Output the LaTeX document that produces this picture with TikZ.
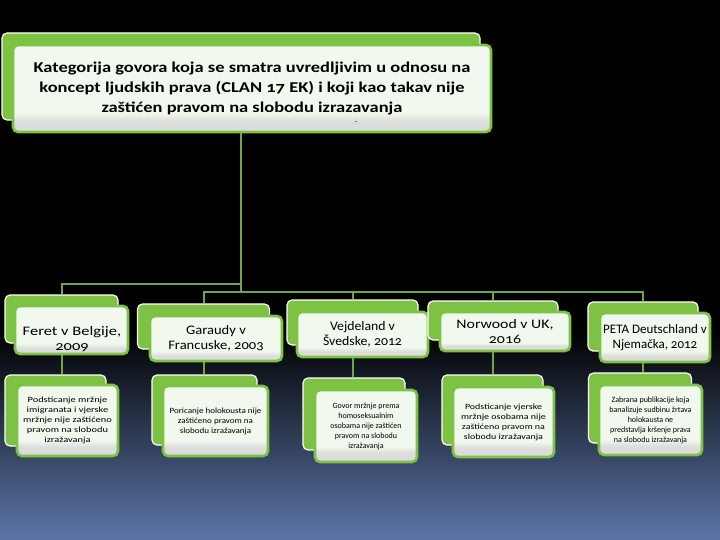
\documentclass[tikz,border=0pt]{standalone}
\usepackage{fontspec}
\setmainfont{Carlito}[Numbers=OldStyle]
\usepackage{xcolor}
\usepackage{tikz}
\usetikzlibrary{positioning}

\definecolor{leafgreen}{RGB}{125,194,66}
\definecolor{stemgreen}{RGB}{112,166,72}
\definecolor{paper}{RGB}{241,248,237}
\definecolor{paperlow}{RGB}{220,220,220}
\definecolor{nightblue}{RGB}{92,118,168}
\pgfdeclareverticalshading{cardshade}{100bp}{color(0bp)=(paperlow); color(31bp)=(paperlow); color(36bp)=(paper); color(100bp)=(paper)}
\pgfdeclarelayer{wires}
\pgfsetlayers{wires,main}

\tikzset{
  backcard/.style={draw=white, line width=1.2pt, fill=leafgreen, rounded corners=5pt, inner sep=0pt},
  frontcard/.style={draw=leafgreen, line width=2.6pt, rounded corners=5pt, shading=cardshade, inner sep=1pt, align=center, text=black},
  link/.style={stemgreen, line width=2pt},
  headtxt/.style={font=\fontsize{15}{20}\selectfont\bfseries\addfontfeature{FakeStretch=1.23}},
  casetxt/.style={font=\fontsize{13}{15}\selectfont\addfontfeature{FakeStretch=#1}},
  ruletxt/.style={font=\fontsize{8}{10}\selectfont\addfontfeature{FakeStretch=#1}},
}

\begin{document}
\begin{tikzpicture}[x=1pt,y=-1pt]
\useasboundingbox (0,0) rectangle (720,540);
\begin{pgfonlayer}{wires}
\fill[black] (0,0) rectangle (720,331);
\shade[top color=black, bottom color=nightblue] (0,330) rectangle (720,540);
\end{pgfonlayer}

% main box
\node[backcard, minimum width=478, minimum height=87] (btop) at (241,76.5) {};
\node[frontcard, headtxt, minimum width=478, minimum height=87] (top) at (252,88.5) {Kategorija govora koja se smatra uvredljivim u odnosu na\\ koncept ljudskih prava (CLAN 17 EK) i koji kao takav nije\\ zaštićen pravom na slobodu izrazavanja};
\node[inner sep=0pt, font=\fontsize{9}{9}\selectfont] (dot) at (356,122) {.};

% cases
\node[backcard, minimum width=113, minimum height=48] (bc1) at (61.5,319) {};
\node[frontcard, minimum width=113, minimum height=48] (c1) at (71.5,330) {};
\node[casetxt=1.27, align=center, inner sep=0pt] (c1text) at (72,339) {Feret v Belgije,\\ 2009};
\node[backcard, minimum width=132, minimum height=45] (bc2) at (203.5,326.5) {};
\node[frontcard, casetxt=1.12, minimum width=132, minimum height=45] (c2) at (216,338.5) {Garaudy v\\ Francuske, 2003};
\node[backcard, minimum width=131, minimum height=45] (bc3) at (352.5,322.5) {};
\node[frontcard, casetxt=1.06, minimum width=131, minimum height=45] (c3) at (362.5,334.5) {Vejdeland v\\ Švedske, 2012};
\node[backcard, minimum width=130, minimum height=39] (bc4) at (493,320.5) {};
\node[frontcard, casetxt=1.22, minimum width=130, minimum height=39] (c4) at (505,331.5) {Norwood v UK,\\ 2016};
\node[backcard, minimum width=110, minimum height=49] (bc5) at (643,326.5) {};
\node[frontcard, casetxt=1.0, minimum width=110, minimum height=49] (c5) at (655,337.5) {PETA Deutschland v\\ Njemačka, 2012};

% rulings
\node[backcard, minimum width=101, minimum height=71] (bd1) at (55.5,410.5) {};
\node[frontcard, ruletxt=1.3, minimum width=101, minimum height=71] (d1) at (67.5,420.5) {Podsticanje mržnje\\ imigranata i vjerske\\ mržnje nije zaštićeno\\ pravom na slobodu\\ izražavanja};
\node[backcard, minimum width=105, minimum height=70] (bd2) at (204.5,410) {};
\node[frontcard, ruletxt=1.13, minimum width=105, minimum height=70] (d2) at (215.5,421) {Poricanje holokousta nije\\ zaštićeno pravom na\\ slobodu izražavanja};
\node[backcard, minimum width=102, minimum height=72] (bd3) at (354,414) {};
\node[frontcard, ruletxt=1.0, minimum width=102, minimum height=72] (d3) at (366,426) {Govor mržnje prema\\ homoseksualnim\\ osobama nije zaštićen\\ pravom na slobodu\\ izražavanja};
\node[backcard, minimum width=101, minimum height=70] (bd4) at (492.5,410) {};
\node[frontcard, ruletxt=1.25, minimum width=101, minimum height=70] (d4) at (503.5,422) {Podsticanje vjerske\\ mržnje osobama nije\\ zaštićeno pravom na\\ slobodu izražavanja};
\node[backcard, minimum width=103, minimum height=70] (bd5) at (640,408) {};
\node[frontcard, ruletxt=1.0, minimum width=103, minimum height=70] (d5) at (650.5,420) {Zabrana publikacije koja\\ banalizuje sudbinu žrtava\\ holokausta ne\\ predstavlja kršenje prava\\ na slobodu izražavanja};

% tree lines
\coordinate (bus1) at (241,284);
\coordinate (bus2) at (241,292);
\begin{pgfonlayer}{wires}
\draw[link] (btop.center) -- (bus2);
\draw[link] (bus1) -| (bc1.north);
\draw[link] (bc2.north) |- (bus2) -| (bc5.north);
\draw[link] (bc3.north) -- (bc3.north |- bus2);
\draw[link] (bc4.north) -- (bc4.north |- bus2);
\foreach \i in {1,...,5}\draw[link] (bc\i.center) -- (bc\i.center |- bd\i.north);
\end{pgfonlayer}
\end{tikzpicture}
\end{document}
